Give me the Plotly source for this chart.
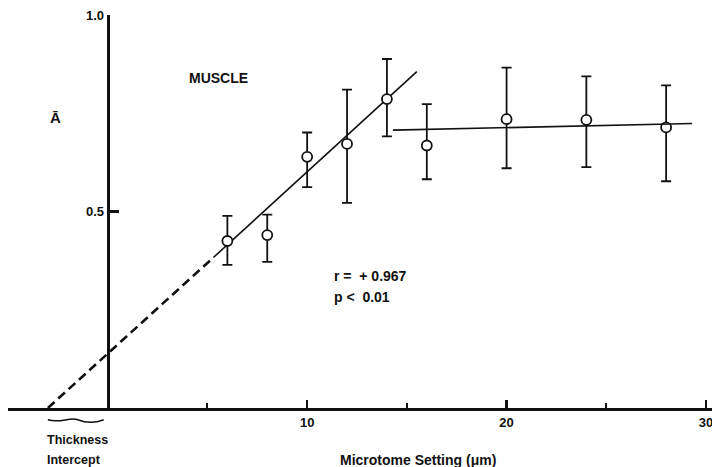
import plotly.graph_objects as go

# ---- data ----
setting_um = [6, 8, 10, 12, 14, 16, 20, 24, 28]
mean_A = [0.425, 0.440, 0.639, 0.672, 0.786, 0.668, 0.735, 0.733, 0.714]
upper_A = [0.489, 0.492, 0.701, 0.810, 0.888, 0.773, 0.866, 0.844, 0.821]
lower_A = [0.364, 0.372, 0.562, 0.522, 0.691, 0.582, 0.610, 0.613, 0.577]

fit_dashed_x = [-3.0, 5.3]
fit_dashed_y = [0.0, 0.383]
fit_solid_x = [5.3, 15.5]
fit_solid_y = [0.383, 0.856]
plateau_x = [14.3, 29.3]
plateau_y = [0.707, 0.724]

x_major_ticks = [10, 20, 30]
x_minor_ticks = [-5, 5, 15, 25]
y_ticks = [0.5, 1.0]
y_ticklabels = ["0.5", "1.0"]

err_plus = [u - m for u, m in zip(upper_A, mean_A)]
err_minus = [m - l for m, l in zip(mean_A, lower_A)]

FONT = "Liberation Sans"
INK = "#111111"

fig = go.Figure()

fig.add_trace(go.Scatter(x=fit_dashed_x, y=fit_dashed_y, mode="lines",
                         line=dict(color=INK, width=2.6, dash="9px,5px"),
                         hoverinfo="skip", showlegend=False))
fig.add_trace(go.Scatter(x=fit_solid_x, y=fit_solid_y, mode="lines",
                         line=dict(color=INK, width=1.6),
                         hoverinfo="skip", showlegend=False))
fig.add_trace(go.Scatter(x=plateau_x, y=plateau_y, mode="lines",
                         line=dict(color=INK, width=1.6),
                         yaxis="y2", hoverinfo="skip", showlegend=False))
fig.add_trace(go.Scatter(
    x=setting_um, y=mean_A, mode="markers",
    marker=dict(symbol="circle", size=10, color="white",
                line=dict(color=INK, width=1.8)),
    error_y=dict(type="data", symmetric=False, array=err_plus,
                 arrayminus=err_minus, color=INK, thickness=1.8, width=5),
    showlegend=False))

tickfont = dict(family=FONT, size=13, weight="bold", color=INK)
fig.update_layout(
    width=712, height=467,
    margin=dict(l=8, r=0, t=15, b=59, autoexpand=False),
    paper_bgcolor="white", plot_bgcolor="white",
    font=dict(family=FONT, color=INK),
    showlegend=False,
    xaxis=dict(range=[-5, 30.3], showgrid=False, zeroline=False,
               automargin=False, ticklabeloverflow="allow",
               showline=True, linecolor=INK, linewidth=3,
               tickmode="array", tickvals=x_major_ticks,
               ticks="inside", ticklen=8, tickwidth=2.2, tickcolor=INK,
               tickfont=tickfont,
               minor=dict(tickmode="array", tickvals=x_minor_ticks,
                          ticks="inside", ticklen=5, tickwidth=2, tickcolor=INK),
               fixedrange=True),
    yaxis=dict(range=[0, 1.0], visible=False, showgrid=False, zeroline=False,
               automargin=False, fixedrange=True),
    yaxis2=dict(range=[0, 1.0], overlaying="y", anchor="free",
                position=5 / 35.3, side="left", automargin=False,
                ticklabeloverflow="allow",
                showgrid=False, zeroline=False,
                showline=True, linecolor=INK, linewidth=3,
                tickmode="array", tickvals=y_ticks, ticktext=y_ticklabels,
                ticks="inside", ticklen=9, tickwidth=2.5, tickcolor=INK,
                tickfont=tickfont,
                fixedrange=True),
)

bold = dict(family=FONT, size=14, color=INK, weight="bold")
fig.add_annotation(x=5.53, y=0.84, xref="x", yref="y", text="MUSCLE",
                   yanchor="middle", showarrow=False, font=bold)
fig.add_annotation(x=-2.6, y=0.74, xref="x", yref="y", text="Ā",
                   yanchor="middle", showarrow=False,
                   font=dict(family=FONT, size=15, color=INK, weight="bold"))
fig.add_annotation(x=11.25, y=0.336, xref="x", yref="y", text="r =  + 0.967",
                   xanchor="left", yanchor="middle", showarrow=False, font=bold)
fig.add_annotation(x=11.25, y=0.282, xref="x", yref="y", text="p &lt;  0.01",
                   xanchor="left", yanchor="middle", showarrow=False, font=bold)
small = dict(family=FONT, size=12.5, color=INK, weight="bold")
fig.add_annotation(x=-3.14, y=-0.0814, xref="x", yref="paper", text="Thickness",
                   xanchor="left", yanchor="middle", showarrow=False, font=small)
fig.add_annotation(x=-3.14, y=-0.132, xref="x", yref="paper", text="Intercept",
                   xanchor="left", yanchor="middle", showarrow=False, font=small)
fig.add_annotation(x=15.56, y=-0.132, xref="x", yref="paper",
                   text="Microtome Setting (\u03bcm)", yanchor="middle",
                   showarrow=False,
                   font=dict(family=FONT, size=14, color=INK, weight="bold"))

# wavy brace marking the thickness intercept under the axis
fig.add_shape(type="path", xref="x", yref="paper",
              path="M -3,-0.030 C -2.4,-0.040 -1.9,-0.022 -1.5,-0.030 "
                   "S -0.6,-0.038 -0.2,-0.030",
              line=dict(color=INK, width=1.5))

fig.write_html("out.html",
               config={"displayModeBar": False, "staticPlot": True},
               post_script="document.body.style.margin='0';"
                           "document.body.style.overflow='hidden';")
